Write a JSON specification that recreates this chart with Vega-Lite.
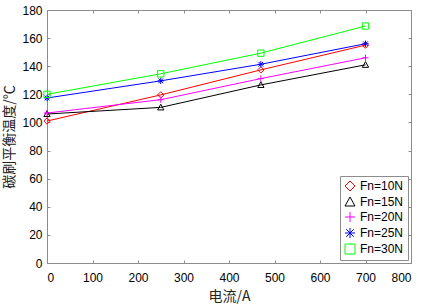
{
  "$schema": "https://vega.github.io/schema/vega-lite/v6.json",
  "width": 364,
  "height": 253,
  "autosize": {"type": "none"},
  "padding": {"left": 47, "top": 10, "right": 16, "bottom": 43},
  "background": "white",
  "config": {
    "view": {"stroke": "#8c8c8c", "strokeWidth": 1},
    "axis": {"labelFont": "Liberation Sans", "labelFontSize": 12, "labelColor": "#000", "titleFont": "Noto Sans CJK SC", "titleFontSize": 14, "titleFontWeight": "normal", "titleColor": "#222", "grid": false, "domain": false, "tickColor": "#8c8c8c", "tickSize": -3},
    "legend": {
      "title": null, "orient": "bottom-right", "offset": 3, "padding": 4,
      "strokeColor": "#8c8c8c", "fillColor": "white",
      "labelFont": "Liberation Sans", "labelFontSize": 12, "labelColor": "#000",
      "symbolSize": 100, "symbolStrokeWidth": 1, "rowPadding": 2, "labelOffset": 4
    }
  },
  "data": {"values": [
    {"series": "Fn=10N", "current": 0, "temp": 101},
    {"series": "Fn=10N", "current": 250, "temp": 119.6},
    {"series": "Fn=10N", "current": 470, "temp": 137.4},
    {"series": "Fn=10N", "current": 700, "temp": 155},
    {"series": "Fn=15N", "current": 0, "temp": 106},
    {"series": "Fn=15N", "current": 250, "temp": 110.7},
    {"series": "Fn=15N", "current": 470, "temp": 126.7},
    {"series": "Fn=15N", "current": 700, "temp": 141},
    {"series": "Fn=20N", "current": 0, "temp": 106.7},
    {"series": "Fn=20N", "current": 250, "temp": 116.2},
    {"series": "Fn=20N", "current": 470, "temp": 131.2},
    {"series": "Fn=20N", "current": 700, "temp": 146},
    {"series": "Fn=25N", "current": 0, "temp": 117.4},
    {"series": "Fn=25N", "current": 250, "temp": 129.6},
    {"series": "Fn=25N", "current": 470, "temp": 141.4},
    {"series": "Fn=25N", "current": 700, "temp": 156},
    {"series": "Fn=30N", "current": 0, "temp": 120},
    {"series": "Fn=30N", "current": 250, "temp": 134.6},
    {"series": "Fn=30N", "current": 470, "temp": 149.3},
    {"series": "Fn=30N", "current": 700, "temp": 168.6}
  ]},
  "layer": [
    {
      "mark": {"type": "line", "strokeWidth": 1},
      "encoding": {
        "x": {"field": "current", "type": "quantitative", "scale": {"domain": [0, 800], "nice": false}, "axis": {"title": "电流/A", "values": [0,100,200,300,400,500,600,700,800], "labelPadding": 12, "titleY": 26, "titleBaseline": "top"}},
        "y": {"field": "temp", "type": "quantitative", "scale": {"domain": [0, 180], "nice": false}, "axis": {"title": "碳刷平衡温度/℃", "values": [0,20,40,60,80,100,120,140,160,180], "labelPadding": 8, "titlePadding": 5}},
        "color": {"field": "series", "type": "nominal", "scale": {"domain": ["Fn=10N","Fn=15N","Fn=20N","Fn=25N","Fn=30N"], "range": ["#ff0000","#000000","#ff00ff","#0000ff","#00ff00"]},
          "legend": {"encode": {"symbols": {"update": {"shape": {"signal": "datum.value == 'Fn=10N' ? 'M-4.2,0H-2M-0.8,0H1.4M-1.4,-0.6L-0.8,0L-1.4,0.6L-2,0Z' : datum.value == 'Fn=15N' ? 'M-4.2,0H-2M-0.8,0H1.4M-1.4,-0.6L-0.8,0.45L-2,0.45Z' : datum.value == 'Fn=20N' ? 'M-4.2,0H1.4M-1.4,-0.6V0.6' : datum.value == 'Fn=25N' ? 'M-4.2,0H1.4M-1.4,-0.5V0.5M-1.8,-0.35L-1,0.35M-1.8,0.35L-1,-0.35' : 'M-4.2,0H-1.9M-0.9,0H1.4M-1.9,-0.5H-0.9V0.5H-1.9Z'"}, "fill": {"value": "transparent"}, "strokeWidth": {"value": 1}}}}}},
        "detail": {"field": "series"}
      }
    },
    {
      "mark": {"type": "point", "filled": false, "size": 40, "strokeWidth": 1, "opacity": 1},
      "encoding": {
        "x": {"field": "current", "type": "quantitative", "axis": null},
        "y": {"field": "temp", "type": "quantitative", "axis": null},
        "color": {"field": "series", "type": "nominal",
          "legend": {"encode": {"symbols": {"update": {"shape": {"signal": "datum.value == 'Fn=10N' ? 'M-4.2,0H-2M-0.8,0H1.4M-1.4,-0.6L-0.8,0L-1.4,0.6L-2,0Z' : datum.value == 'Fn=15N' ? 'M-4.2,0H-2M-0.8,0H1.4M-1.4,-0.6L-0.8,0.45L-2,0.45Z' : datum.value == 'Fn=20N' ? 'M-4.2,0H1.4M-1.4,-0.6V0.6' : datum.value == 'Fn=25N' ? 'M-4.2,0H1.4M-1.4,-0.5V0.5M-1.8,-0.35L-1,0.35M-1.8,0.35L-1,-0.35' : 'M-4.2,0H-1.9M-0.9,0H1.4M-1.9,-0.5H-0.9V0.5H-1.9Z'"}, "fill": {"value": "transparent"}, "strokeWidth": {"value": 1}}}}}},
        "shape": {"field": "series", "type": "nominal", "legend": null, "scale": {"domain": ["Fn=10N","Fn=15N","Fn=20N","Fn=25N","Fn=30N"], "range": ["diamond", "M0,-1L1,0.8L-1,0.8Z", "M-1,0H1M0,-1V1", "M-1,0H1M0,-1V1M-0.75,-0.75L0.75,0.75M-0.75,0.75L0.75,-0.75", "square"]}}
      }
    },
    {
      "mark": {"type": "point", "opacity": 0},
      "encoding": {
        "x": {"field": "current", "type": "quantitative", "axis": {"orient": "top", "title": null, "labels": false, "values": [0,100,200,300,400,500,600,700,800]}},
        "y": {"field": "temp", "type": "quantitative", "axis": {"orient": "right", "title": null, "labels": false, "values": [0,20,40,60,80,100,120,140,160,180]}}
      }
    }
  ],
  "resolve": {"axis": {"x": "independent", "y": "independent"}}
}
